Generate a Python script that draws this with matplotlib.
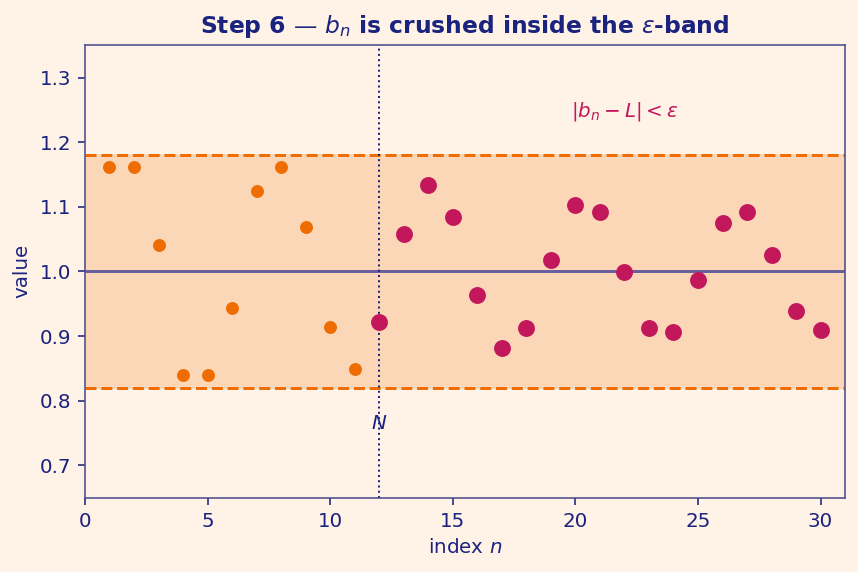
import matplotlib
matplotlib.use("Agg")
import matplotlib.pyplot as plt

L = 1.0
eps = 0.18
N = 12

n_before = list(range(1, 12))
b_before = [1.161, 1.161, 1.041, 0.840, 0.840, 0.943, 1.125, 1.161, 1.069, 0.914, 0.849]
n_after = list(range(12, 31))
b_after = [0.922, 1.058, 1.133, 1.084, 0.964, 0.882, 0.912, 1.018, 1.103, 1.092,
           0.999, 0.912, 0.907, 0.987, 1.075, 1.092, 1.025, 0.938, 0.909]

bg = '#fff2e6'
navy = '#1a237e'
spine = '#4b4b8f'
orange = '#ef6c00'
crimson = '#c2185b'

fig, ax = plt.subplots(figsize=(6, 4), dpi=143)
fig.patch.set_facecolor(bg)
ax.set_facecolor(bg)

# the epsilon band around the limit
ax.axhspan(L - eps, L + eps, color='#fbd6b7', zorder=0)
ax.axhline(L + eps, color=orange, ls='--', lw=1.5, zorder=1)
ax.axhline(L - eps, color=orange, ls='--', lw=1.5, zorder=1)
ax.axhline(L, color='#6a5f9e', lw=1.5, zorder=1)
ax.axvline(N, color=navy, ls=':', lw=1.0, zorder=1)

ax.plot(n_before, b_before, 'o', color=orange, ms=5.5, zorder=3)
ax.plot(n_after, b_after, 'o', color=crimson, ms=7.5, zorder=3)

ax.text(N, 0.765, '$N$', color=navy, ha='center', va='center', fontsize=10)
ax.text(22, 1.248, r'$|b_n - L| < \varepsilon$', color=crimson,
        ha='center', va='center', fontsize=10)

ax.set_xlim(0, 31)
ax.set_ylim(0.65, 1.35)
ax.set_yticks([0.7, 0.8, 0.9, 1.0, 1.1, 1.2, 1.3])
ax.set_title(r'Step 6 — $b_n$ is crushed inside the $\varepsilon$-band',
             color=navy, fontweight='bold', fontsize=11.75)
ax.set_xlabel('index $n$', color=navy, fontsize=10)
ax.set_ylabel('value', color=navy, fontsize=10)
ax.tick_params(colors=navy, labelsize=10)
for s in ax.spines.values():
    s.set_color(spine)

fig.subplots_adjust(left=0.099, right=0.985, top=0.921, bottom=0.13)
fig.savefig('out.png', facecolor=bg)
